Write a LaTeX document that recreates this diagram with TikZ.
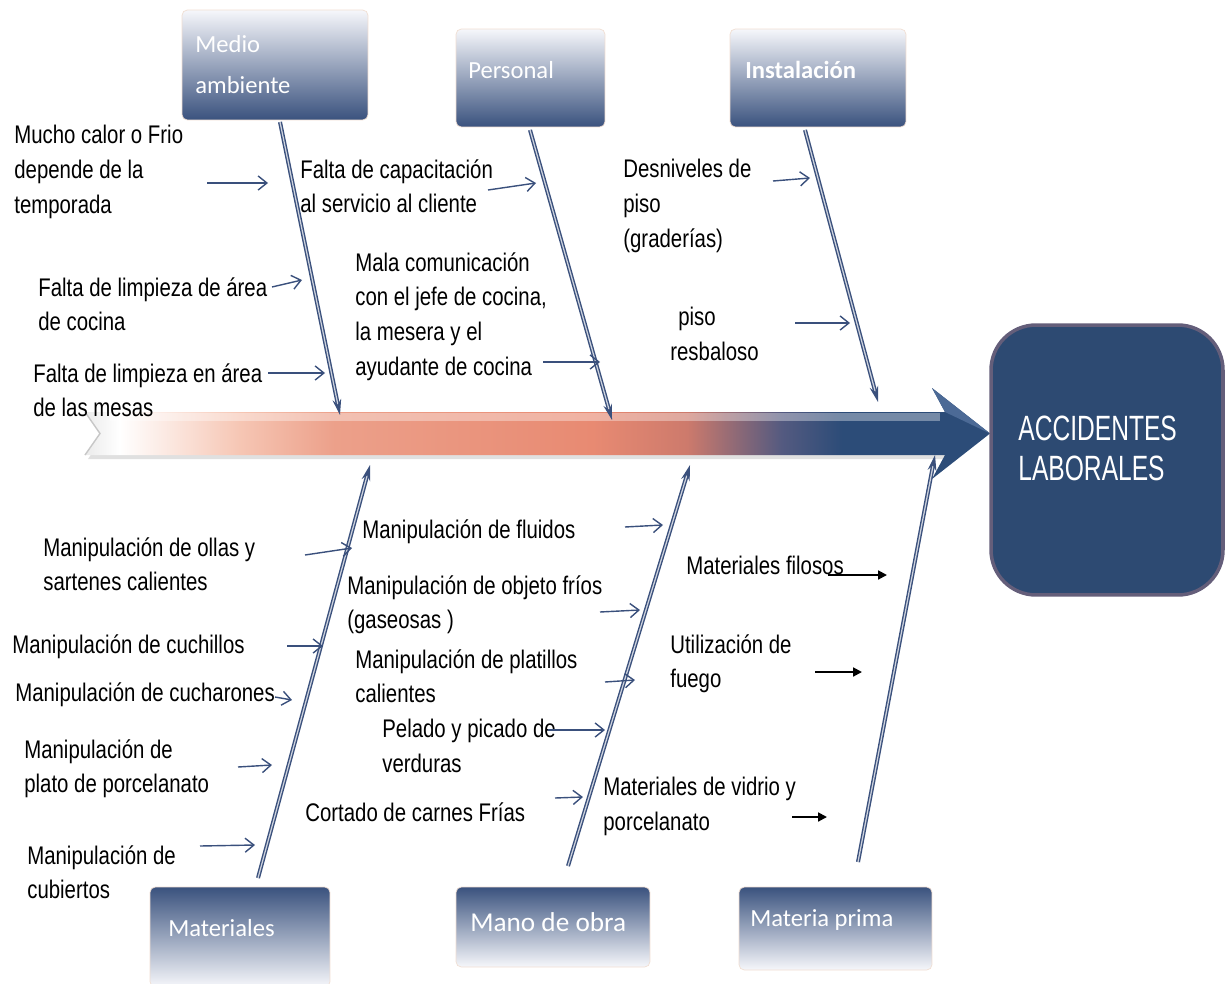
\documentclass[tikz,border=0pt]{standalone}
\usepackage{fontspec}
\setmainfont{Liberation Sans}[FakeStretch=0.8]
\newfontfamily\boxfont{Carlito}
\newfontfamily\effectfont{Liberation Sans}[FakeStretch=0.7]
\usetikzlibrary{arrows.meta}

\definecolor{bonecol}{RGB}{58,80,124}
\definecolor{boxtop}{RGB}{246,247,251}
\definecolor{boxbot}{RGB}{58,82,126}
\definecolor{boxedge}{RGB}{240,222,210}
\definecolor{headcol}{RGB}{44,76,120}
\definecolor{headlight}{RGB}{76,106,150}
\definecolor{effectcol}{RGB}{45,74,114}
\definecolor{effectedge}{RGB}{100,94,122}

\pgfdeclarehorizontalshading{spineshade}{100bp}{color(0bp)=(white); color(25bp)=(white!92!black); color(27bp)=(white);
  color(34bp)=(rgb,255:red,246;green,198;blue,180); color(39.5bp)=(rgb,255:red,236;green,160;blue,138);
  color(54.5bp)=(rgb,255:red,232;green,138;blue,114); color(60bp)=(rgb,255:red,205;green,122;blue,108);
  color(65.5bp)=(rgb,255:red,84;green,90;blue,128); color(69bp)=(headcol); color(100bp)=(headcol)}

\tikzset{
  causebox/.style={rounded corners=3pt, draw=boxedge, top color=boxtop, bottom color=boxbot},
  lowbox/.style={rounded corners=3pt, draw=boxedge, top color=boxbot, bottom color=boxtop},
  boxlabel/.style={text=white, font=\boxfont\fontsize{14}{23.5}\selectfont, align=left, inner sep=0pt, anchor=north west},
  txt/.style={font=\fontsize{14.5}{19.8}\selectfont, align=left, inner sep=0pt, anchor=north west},
  bone/.style={draw=bonecol, double=white!75!bonecol, double distance=0.7pt, line width=0.8pt, -{Stealth[length=9pt,width=5pt]}},
  cause/.style={bonecol, line width=0.8pt, -{Straight Barb[length=5pt,width=8pt]}},
  blackcause/.style={black, line width=1.1pt, -{Triangle[length=5pt,width=5pt]}}
}

\begin{document}
\begin{tikzpicture}[x=0.02cm, y=-0.02cm]
  \useasboundingbox (0,0) rectangle (1226,983);

  % spine
  \fill[black!12] (88,416) -- (945,416) -- (945,459) -- (88,459) -- (103,437) -- cycle;
  \shade[shading=spineshade] (85,412) -- (945,412) -- (945,455) -- (85,455) -- (100,433.5) -- cycle;
  \draw[black!22, line width=0.8pt] (85,412) -- (100,433.5) -- (85,455);
  \draw[white, opacity=0.35, line width=4pt] (110,417) -- (940,417);
  \fill[headcol] (932,388) -- (990,433.5) -- (932,479) -- (945,455) -- (945,412) -- cycle;
  \fill[headlight] (932,388) -- (990,433.5) -- (945,412) -- cycle;

  % effect
  \node[rounded corners=0.9cm, fill=effectcol, draw=effectedge, line width=2pt,
        minimum width=4.64cm, minimum height=5.4cm] (effect) at (1107,460) {};
  \node[text=white, font=\effectfont\fontsize{20}{22.7}\selectfont, align=left, inner sep=0pt, anchor=north west]
        (effecttxt) at (1018,416) {ACCIDENTES\\LABORALES};

  % category boxes
  \node[causebox, minimum width=3.72cm, minimum height=2.2cm] (medio) at (275,65) {};
  \node[boxlabel] (mediotxt) at (195,35) {Medio\\ambiente};
  \node[causebox, minimum width=2.98cm, minimum height=1.96cm] (personal) at (530.5,78) {};
  \node[boxlabel] (personaltxt) at (468,61) {Personal};
  \node[causebox, minimum width=3.52cm, minimum height=1.96cm] (instal) at (818,78) {};
  \node[boxlabel, font=\boxfont\bfseries\fontsize{14}{23.5}\selectfont] (instaltxt) at (745,61) {Instalación};
  \node[lowbox, minimum width=3.6cm, minimum height=2cm] (mater) at (240,937) {};
  \node[boxlabel] (matertxt) at (168,919) {Materiales};
  \node[lowbox, minimum width=3.88cm, minimum height=1.6cm] (mano) at (553,927) {};
  \node[boxlabel, font=\boxfont\fontsize{15.5}{23.5}\selectfont] (manotxt) at (470,912) {Mano de obra};
  \node[lowbox, minimum width=3.86cm, minimum height=1.66cm] (prima) at (835.5,928.5) {};
  \node[boxlabel] (primatxt) at (750,909) {Materia prima};

  % bones
  \coordinate (medioA) at (280,122);   \coordinate (medioB) at (340,415);
  \coordinate (personalA) at (530,130); \coordinate (personalB) at (612,420);
  \coordinate (instalA) at (805,130);  \coordinate (instalB) at (878,402);
  \coordinate (materA) at (258,878);   \coordinate (materB) at (370,465);
  \coordinate (manoA) at (568,866);    \coordinate (manoB) at (690,465);
  \coordinate (primaA) at (858,862);   \coordinate (primaB) at (935,455);
  \draw[bone] (medioA) -- (medioB);
  \draw[bone] (personalA) -- (personalB);
  \draw[bone] (instalA) -- (instalB);
  \draw[bone] (materA) -- (materB);
  \draw[bone] (manoA) -- (manoB);
  \draw[bone] (primaA) -- (primaB);

  % medio ambiente
  \node[txt] (calor) at (14,125) {Mucho calor o Frio\\depende de la\\temporada};
  \node[txt] (cocina) at (38,277) {Falta de limpieza de área\\de cocina};
  \node[txt] (mesas) at (33,363) {Falta de limpieza en área\\de las mesas};
  \coordinate (calorA) at (207,183);  \coordinate (calorB) at (268,183);
  \coordinate (cocinaA) at (272,287); \coordinate (cocinaB) at (302,280);
  \coordinate (mesasA) at (268,373);  \coordinate (mesasB) at (325,373);
  \draw[cause] (calorA) -- (calorB);
  \draw[cause] (cocinaA) -- (cocinaB);
  \draw[cause] (mesasA) -- (mesasB);

  % personal
  \node[txt] (capac) at (300,159) {Falta de capacitación\\al servicio al cliente};
  \node[txt] (comun) at (355,252) {Mala comunicación\\con el jefe de cocina,\\la mesera y el\\ayudante de cocina};
  \coordinate (capacA) at (488,190); \coordinate (capacB) at (536,183);
  \coordinate (comunA) at (543,362); \coordinate (comunB) at (600,362);
  \draw[cause] (capacA) -- (capacB);
  \draw[cause] (comunA) -- (comunB);

  % instalacion
  \node[txt] (desniv) at (623,159) {Desniveles de\\piso\\(graderías)};
  \node[txt] (resbal) at (670,307) {\hspace*{4.5pt}piso\\resbaloso};
  \coordinate (desnivA) at (773,181); \coordinate (desnivB) at (810,178);
  \coordinate (resbalA) at (795,323); \coordinate (resbalB) at (850,323);
  \draw[cause] (desnivA) -- (desnivB);
  \draw[cause] (resbalA) -- (resbalB);

  % materiales
  \node[txt] (ollas) at (43,537) {Manipulación de ollas y\\sartenes calientes};
  \node[txt] (cuchi) at (12,634) {Manipulación de cuchillos};
  \node[txt] (cucha) at (15,682) {Manipulación de cucharones};
  \node[txt] (plato) at (24,739) {Manipulación de\\plato de porcelanato};
  \node[txt] (cubie) at (27,845) {Manipulación de\\cubiertos};
  \coordinate (ollasA) at (305,555); \coordinate (ollasB) at (352,548);
  \coordinate (cuchiA) at (287,646); \coordinate (cuchiB) at (323,646);
  \coordinate (cuchaA) at (275,697); \coordinate (cuchaB) at (292,700);
  \coordinate (platoA) at (238,767); \coordinate (platoB) at (272,765);
  \coordinate (cubieA) at (200,846); \coordinate (cubieB) at (255,845);
  \draw[cause] (ollasA) -- (ollasB);
  \draw[cause] (cuchiA) -- (cuchiB);
  \draw[cause] (cuchaA) -- (cuchaB);
  \draw[cause] (platoA) -- (platoB);
  \draw[cause] (cubieA) -- (cubieB);

  % mano de obra
  \node[txt] (fluid) at (362,519) {Manipulación de fluidos};
  \node[txt] (frios) at (347,575) {Manipulación de objeto fríos\\(gaseosas )};
  \node[txt] (plati) at (355,649) {Manipulación de platillos\\calientes};
  \node[txt] (pelad) at (382,719) {Pelado y picado de\\verduras};
  \node[txt] (carne) at (305,802) {Cortado de carnes Frías};
  \coordinate (fluidA) at (625,527); \coordinate (fluidB) at (663,525);
  \coordinate (friosA) at (600,612); \coordinate (friosB) at (640,610);
  \coordinate (platiA) at (605,682); \coordinate (platiB) at (635,680);
  \coordinate (peladA) at (548,730); \coordinate (peladB) at (605,730);
  \coordinate (carneA) at (555,798); \coordinate (carneB) at (583,797);
  \draw[cause] (fluidA) -- (fluidB);
  \draw[cause] (friosA) -- (friosB);
  \draw[cause] (platiA) -- (platiB);
  \draw[cause] (peladA) -- (peladB);
  \draw[cause] (carneA) -- (carneB);

  % materia prima
  \node[txt] (filos) at (686,556) {Materiales filosos};
  \node[txt] (fuego) at (670,634) {Utilización de\\fuego};
  \node[txt] (vidrio) at (603,777) {Materiales de vidrio y\\porcelanato};
  \coordinate (filosA) at (828,575);  \coordinate (filosB) at (887,575);
  \coordinate (fuegoA) at (815,672);  \coordinate (fuegoB) at (862,672);
  \coordinate (vidrioA) at (792,817); \coordinate (vidrioB) at (827,817);
  \draw[blackcause] (filosA) -- (filosB);
  \draw[blackcause] (fuegoA) -- (fuegoB);
  \draw[blackcause] (vidrioA) -- (vidrioB);
\end{tikzpicture}
\end{document}
